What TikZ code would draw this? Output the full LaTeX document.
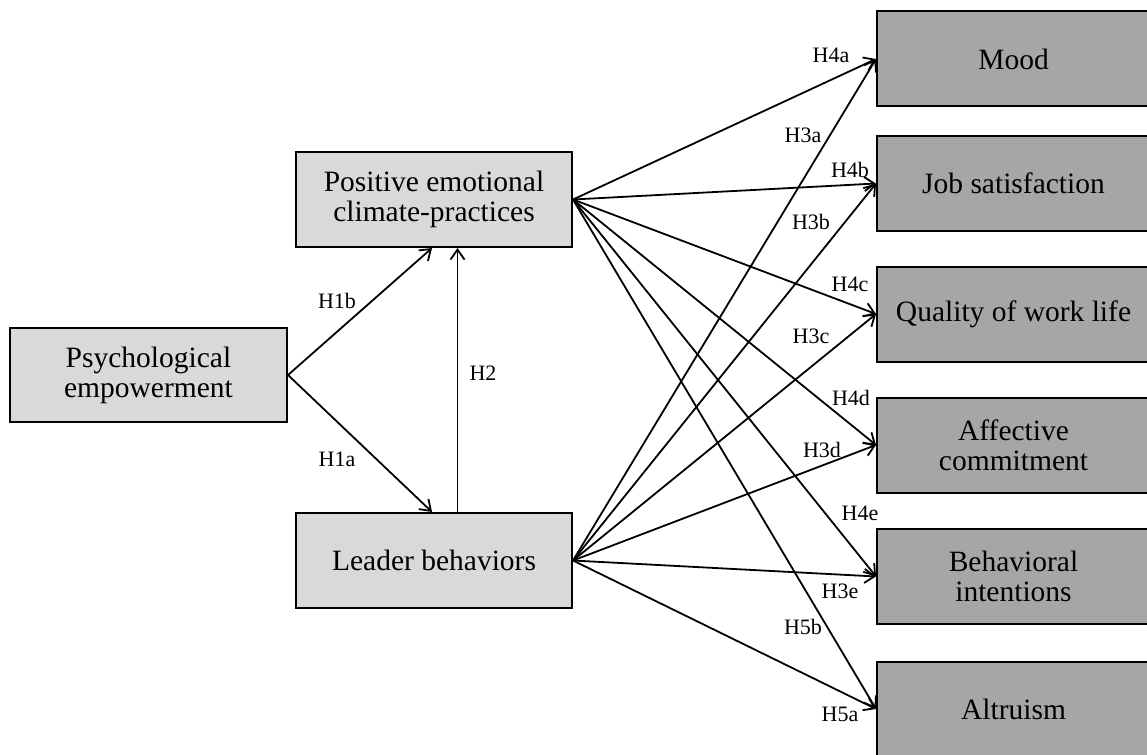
\documentclass[tikz,border=0pt]{standalone}
\usepackage{fontspec}
\setmainfont{Liberation Serif}
\usetikzlibrary{arrows.meta}
\definecolor{lightbox}{HTML}{D9D9D9}
\definecolor{darkbox}{HTML}{A6A6A6}
\begin{document}
\begin{tikzpicture}[x=1pt,y=-1pt,
  box/.style={draw=black, line width=2pt, minimum height=95pt, align=center,
    inner sep=0pt, font=\fontsize{29.5}{30}\selectfont},
  src/.style={box, fill=lightbox, minimum width=276pt},
  dst/.style={box, fill=darkbox, minimum width=273pt},
  arr/.style={line width=1.8pt, -{Straight Barb[length=10pt,width=14pt]}},
  hyp/.style={inner sep=0pt, font=\fontsize{22}{24}\selectfont},
]
\useasboundingbox (0,0) rectangle (1147,754);
\clip (0,0) rectangle (1147,754);

% antecedent and mediator constructs
\node[src, minimum width=277pt, minimum height=94pt] (pe) at (148.5,375) {Psychological\\empowerment};
\node[src] (pec) at (434,199.5) {Positive emotional\\climate-practices};
\node[src] (lb) at (434,560.5) {Leader behaviors};

% outcome constructs
\node[dst] (mood) at (1013.5,59) {Mood};
\node[dst] (js)   at (1013.5,183.5) {Job satisfaction};
\node[dst] (qwl)  at (1013.5,314) {Quality of work life};
\node[dst] (ac)   at (1013.5,445) {Affective\\commitment};
\node[dst] (bi)   at (1013.5,576.5) {Behavioral\\intentions};
\node[dst] (alt)  at (1013.5,709) {Altruism};

% H1 and H2
\draw[arr] (pe.east) -- ([xshift=-2pt]pec.south);
\draw[arr] (pe.east) -- ([xshift=-2pt]lb.north);
\draw[arr] ([xshift=23.5pt]lb.north) -- ([xshift=23.5pt]pec.south);

% paths from positive emotional climate-practices
\foreach \t in {mood,js,qwl,ac,bi,alt}
  \draw[arr] (pec.east) -- (\t.west);
% paths from leader behaviors
\foreach \t in {mood,js,qwl,ac,bi,alt}
  \draw[arr] (lb.east) -- (\t.west);

% hypothesis labels
\node[hyp] (h1b) at (337,301) {H1b};
\node[hyp] (h1a) at (337,459) {H1a};
\node[hyp] (h2)  at (483,373) {H2};
\node[hyp] (h4a) at (831,55)  {H4a};
\node[hyp] (h3a) at (803,135) {H3a};
\node[hyp] (h4b) at (850,170) {H4b};
\node[hyp] (h3b) at (811,222) {H3b};
\node[hyp] (h4c) at (850,284) {H4c};
\node[hyp] (h3c) at (811,336) {H3c};
\node[hyp] (h4d) at (851,398) {H4d};
\node[hyp] (h3d) at (822,450) {H3d};
\node[hyp] (h4e) at (860,513) {H4e};
\node[hyp] (h3e) at (840,591) {H3e};
\node[hyp] (h5b) at (803,627) {H5b};
\node[hyp] (h5a) at (840,714) {H5a};
\end{tikzpicture}
\end{document}
